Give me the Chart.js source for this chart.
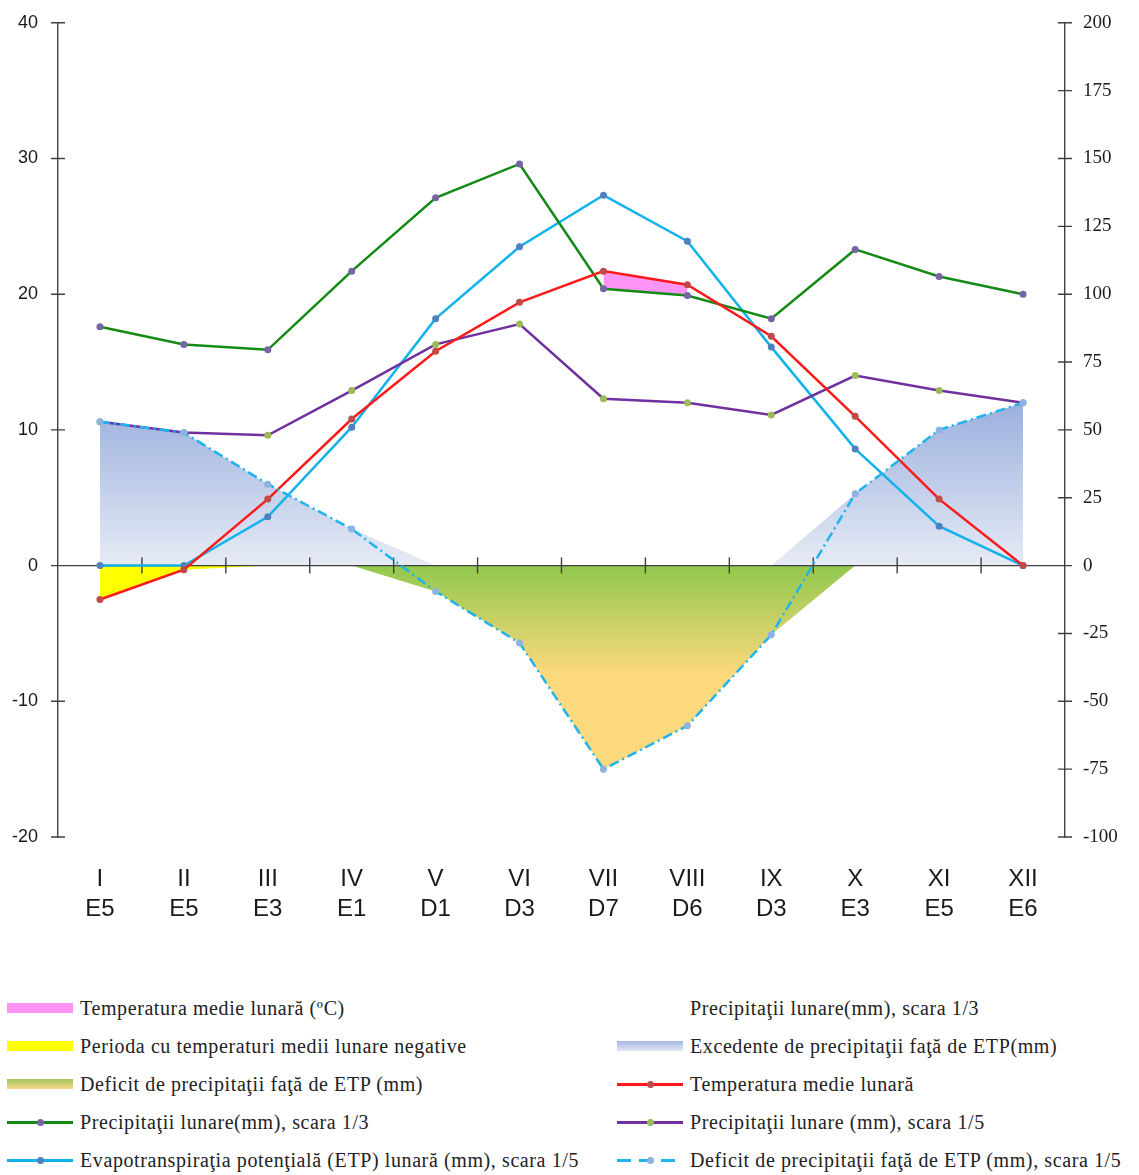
<!DOCTYPE html>
<html>
<head>
<meta charset="utf-8">
<script src="https://cdn.jsdelivr.net/npm/chart.js@4"></script>
<style>
  body { margin: 0; background: #fff; }
  #page { position: relative; width: 1139px; height: 1175px; }
  #box { position: absolute; left: 0; top: 0; width: 1139px; height: 950px; }
  #legend { position: absolute; left: 0; top: 989px; width: 1139px;
            font-family: "Liberation Serif", "Times New Roman", serif; font-size: 20px;
            letter-spacing: 0.6px; color: #222; }
  .row { position: relative; height: 38px; line-height: 38px; }
  .item { position: absolute; top: 0; white-space: nowrap; }
  .sw { position: absolute; top: 14px; width: 66px; height: 10px; }
  .ln { position: absolute; top: 18px; width: 66px; height: 2.5px; }
  .dot { position: absolute; left: 30px; top: -2.5px; width: 7px; height: 7px; border-radius: 50%; }
  .txt { position: absolute; }
</style>
</head>
<body>
<div id="page">
  <div id="box"><canvas id="climChart"></canvas></div>
  <div id="legend"></div>
</div>
<script>
const months = ["I", "II", "III", "IV", "V", "VI", "VII", "VIII", "IX", "X", "XI", "XII"];
const climateTypes = ["E5", "E5", "E3", "E1", "D1", "D3", "D7", "D6", "D3", "E3", "E5", "E6"];

// valori citite pe axa din stanga (scara temperaturii)
const temperature = [-2.5, -0.3, 4.9, 10.8, 15.8, 19.4, 21.7, 20.7, 16.9, 11.0, 4.9, 0.0];
const precipThird = [17.6, 16.3, 15.9, 21.7, 27.1, 29.6, 20.4, 19.9, 18.2, 23.3, 21.3, 20.0];
const precipFifth = [10.6, 9.8, 9.6, 12.9, 16.3, 17.8, 12.3, 12.0, 11.1, 14.0, 12.9, 12.0];
const etpFifth = [0, 0, 3.6, 10.2, 18.2, 23.5, 27.3, 23.9, 16.1, 8.6, 2.9, 0];
const deficitFifth = [10.6, 9.8, 6.0, 2.7, -1.9, -5.7, -15.0, -11.8, -5.1, 5.3, 10.0, 12.0];

// suprafete colorate
const hotPeriod = [null, null, null, null, null, null, 21.7, 20.7, null, null, null, null];
const negativePeriod = [-2.5, -0.3, 0, null, null, null, null, null, null, null, null, null];
const excessArea = [10.6, 9.8, 6.0, 2.7, 0, 0, 0, 0, 0, 5.3, 10.0, 12.0];
const deficitArea = [null, null, null, 0, -1.9, -5.7, -15.0, -11.8, -5.1, 0, null, null];

const leftTicks = [-20, -10, 0, 10, 20, 30, 40];
const rightTicks = [-100, -75, -50, -25, 0, 25, 50, 75, 100, 125, 150, 175, 200];

const AXIS = "#404040";

function excessFill(context) {
    const chart = context.chart;
    if (!chart.chartArea) return "#c5d1ec";
    const y = chart.scales.y;
    const g = chart.ctx.createLinearGradient(0, y.getPixelForValue(12), 0, y.getPixelForValue(0));
    g.addColorStop(0, "#9bb0de");
    g.addColorStop(1, "#e6ebf5");
    return g;
}

function deficitFill(context) {
    const chart = context.chart;
    if (!chart.chartArea) return "#fcd97c";
    const y = chart.scales.y;
    const g = chart.ctx.createLinearGradient(0, y.getPixelForValue(0), 0, y.getPixelForValue(-8));
    g.addColorStop(0, "#92c84e");
    g.addColorStop(1, "#fcd97c");
    return g;
}

// axa de la zero si liniutele care traverseaza axele
const crossTicks = {
    id: "crossTicks",
    beforeDatasetsDraw(chart) {
        const { ctx, scales } = chart;
        const x = scales.x, y = scales.y, y2 = scales.y2;
        const y0 = y.getPixelForValue(0);
        ctx.save();
        ctx.strokeStyle = AXIS;
        ctx.lineWidth = 1.4;
        ctx.beginPath();
        ctx.moveTo(x.left - 7, y0);
        ctx.lineTo(x.right + 7, y0);
        for (let i = 1; i < months.length; i++) {
            const px = (x.getPixelForValue(i - 1) + x.getPixelForValue(i)) / 2;
            ctx.moveTo(px, y0 - 8);
            ctx.lineTo(px, y0 + 8);
        }
        leftTicks.forEach(v => {
            const py = y.getPixelForValue(v);
            ctx.moveTo(x.left - 7, py);
            ctx.lineTo(x.left + 7, py);
        });
        rightTicks.forEach(v => {
            const py = y2.getPixelForValue(v);
            ctx.moveTo(x.right - 7, py);
            ctx.lineTo(x.right + 7, py);
        });
        ctx.stroke();
        ctx.restore();
    }
};

function lineSet(label, data, color, pointColor, order, extra) {
    return Object.assign({
        label: label,
        data: data,
        borderColor: color,
        borderWidth: 2.5,
        pointRadius: 3.5,
        pointBackgroundColor: pointColor,
        pointBorderColor: pointColor,
        pointBorderWidth: 0,
        fill: false,
        tension: 0,
        order: order
    }, extra || {});
}

function areaSet(label, data, fillColor, fillTarget, order) {
    return {
        label: label,
        data: data,
        borderWidth: 0,
        borderColor: "rgba(0,0,0,0)",
        backgroundColor: fillColor,
        pointRadius: 0,
        fill: fillTarget,
        tension: 0,
        order: order
    };
}

const ctx = document.getElementById("climChart");

new Chart(ctx, {
    type: "line",
    data: {
        labels: months.map((m, i) => [m, climateTypes[i]]),
        datasets: [
            lineSet("Temperatura medie lunară", temperature, "#ff1a1a", "#be4b48", 2),
            lineSet("Precipitaţii lunare(mm), scara 1/3", precipThird, "#138a13", "#7763a6", 3),
            lineSet("Precipitaţii lunare (mm), scara 1/5", precipFifth, "#7030a0", "#9bbb59", 4),
            lineSet("Evapotranspiraţia potenţială (ETP) lunară (mm), scara 1/5", etpFifth, "#12b2ec", "#4f81bd", 5),
            lineSet("Deficit de precipitaţii faţă de ETP (mm), scara 1/5", deficitFifth, "#1fb4ee", "#8db3e2", 1,
                { borderDash: [10, 4, 2, 4] }),
            areaSet("Temperatura medie lunară (ºC)", hotPeriod, "#ff94f7", 1, 10),
            areaSet("Perioda cu temperaturi medii lunare negative", negativePeriod, "#ffff00", "origin", 11),
            areaSet("Excedente de precipitaţii faţă de ETP(mm)", excessArea, excessFill, "origin", 12),
            areaSet("Deficit de precipitaţii faţă de ETP (mm)", deficitArea, deficitFill, "origin", 13)
        ]
    },
    options: {
        responsive: true,
        maintainAspectRatio: false,
        animation: false,
        layout: { padding: { top: 8, left: 0, right: 0, bottom: 0 } },
        plugins: {
            legend: { display: false },
            tooltip: { enabled: false },
            filler: { drawTime: "beforeDatasetsDraw" }
        },
        scales: {
            x: {
                type: "category",
                offset: true,
                grid: { display: false },
                border: { display: false },
                ticks: {
                    autoSkip: false,
                    maxRotation: 0,
                    padding: 19,
                    color: "#1a1a1a",
                    font: { family: "'Liberation Sans', Arial, sans-serif", size: 24, lineHeight: 1.25 }
                },
                afterFit: s => { s.height = 113; }
            },
            y: {
                position: "left",
                min: -20,
                max: 40,
                grid: { display: false },
                border: { display: true, color: AXIS, width: 1.4 },
                ticks: {
                    stepSize: 10,
                    padding: 12,
                    color: "#1a1a1a",
                    font: { family: "'Liberation Sans', Arial, sans-serif", size: 18 }
                },
                afterFit: s => { s.width = 58; }
            },
            y2: {
                position: "right",
                min: -100,
                max: 200,
                grid: { display: false },
                border: { display: true, color: AXIS, width: 1.4 },
                ticks: {
                    stepSize: 25,
                    padding: 10,
                    color: "#1a1a1a",
                    font: { family: "'Liberation Serif', 'Times New Roman', serif", size: 19 }
                },
                afterFit: s => { s.width = 74; }
            }
        }
    },
    plugins: [crossTicks]
});

// legenda pe doua coloane
const legendRows = [
    [{ kind: "rect", color: "#ff94f7", text: "Temperatura medie lunară (ºC)" },
     { kind: "none", text: "Precipitaţii lunare(mm), scara 1/3" }],
    [{ kind: "rect", color: "#ffff00", text: "Perioda cu temperaturi medii lunare negative" },
     { kind: "rect", color: "linear-gradient(#a7b9e2, #e0e6f3)", text: "Excedente de precipitaţii faţă de ETP(mm)" }],
    [{ kind: "rect", color: "linear-gradient(#9cc65a, #fbd68a)", text: "Deficit de precipitaţii faţă de ETP (mm)" },
     { kind: "line", color: "#ff1a1a", dot: "#be4b48", text: "Temperatura medie lunară" }],
    [{ kind: "line", color: "#138a13", dot: "#7763a6", text: "Precipitaţii lunare(mm), scara 1/3" },
     { kind: "line", color: "#7030a0", dot: "#9bbb59", text: "Precipitaţii lunare (mm), scara 1/5" }],
    [{ kind: "line", color: "#12b2ec", dot: "#4f81bd", text: "Evapotranspiraţia potenţială (ETP) lunară (mm), scara 1/5" },
     { kind: "dash", color: "#1fb4ee", dot: "#8db3e2", text: "Deficit de precipitaţii faţă de ETP (mm), scara 1/5" }]
];
const colLeft = [7, 617];

const legend = document.getElementById("legend");
legendRows.forEach(row => {
    const r = document.createElement("div");
    r.className = "row";
    row.forEach((it, c) => {
        const item = document.createElement("div");
        item.className = "item";
        item.style.left = colLeft[c] + "px";
        let sw = "";
        if (it.kind === "rect") {
            sw = `<div class="sw" style="background:${it.color}"></div>`;
        } else if (it.kind === "line") {
            sw = `<div class="ln" style="background:${it.color}"><div class="dot" style="background:${it.dot}"></div></div>`;
        } else if (it.kind === "dash") {
            sw = `<div class="ln" style="background:repeating-linear-gradient(90deg, ${it.color} 0 14px, transparent 14px 22px)"><div class="dot" style="background:${it.dot}"></div></div>`;
        }
        item.innerHTML = sw + `<span class="txt" style="left:73px">${it.text}</span>`;
        r.appendChild(item);
    });
    legend.appendChild(r);
});
</script>
</body>
</html>
